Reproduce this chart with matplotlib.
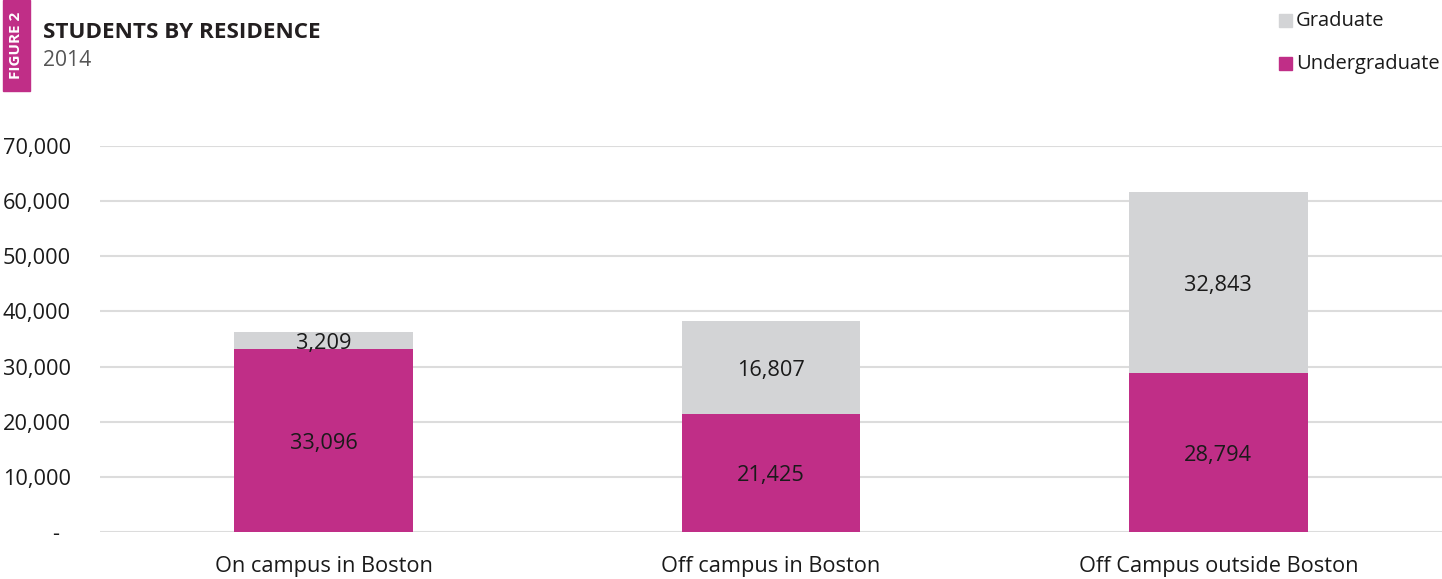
import matplotlib
matplotlib.use("Agg")
import matplotlib.pyplot as plt
from matplotlib.patches import Rectangle

categories = ["On campus in Boston", "Off campus in Boston", "Off Campus outside Boston"]
undergraduate = [33096, 21425, 28794]
graduate = [3209, 16807, 32843]
yticks = [0, 10000, 20000, 30000, 40000, 50000, 60000, 70000]
ytick_labels = ["-  ", "10,000", "20,000", "30,000", "40,000", "50,000", "60,000", "70,000"]

MAGENTA = "#c02e87"
GRAY = "#d3d4d6"
plt.rcParams['font.family'] = ['Open Sans', 'DejaVu Sans']

fig = plt.figure(figsize=(14.42, 5.79), dpi=100)
ax = fig.add_axes([100/1442, 47/579, 1342/1442, 386/579])

x = list(range(len(categories)))
w = 0.4
ax.bar(x, undergraduate, width=w, color=MAGENTA, zorder=3)
ax.bar(x, graduate, width=w, bottom=undergraduate, color=GRAY, zorder=3)

FS = 15.7
for i in x:
    ax.text(i, undergraduate[i] / 2, f"{undergraduate[i]:,}", ha="center", va="center_baseline",
            fontsize=FS, color="#1a1a1a", zorder=4)
    ax.text(i, undergraduate[i] + graduate[i] / 2, f"{graduate[i]:,}", ha="center",
            va="center_baseline", fontsize=FS, color="#1a1a1a", zorder=4)

ax.set_xlim(-0.5, 2.5)
ax.set_ylim(0, 70000)
ax.set_yticks(yticks)
ax.set_yticklabels(ytick_labels, fontsize=FS, color="#1a1a1a")
ax.set_xticks(x)
ax.set_xticklabels(categories, fontsize=FS, color="#1a1a1a")
ax.tick_params(axis="y", length=0, pad=21)
ax.tick_params(axis="x", length=0, pad=17)
ax.yaxis.grid(True, color="#dcdcdc", linewidth=1.5, zorder=0)
ax.set_axisbelow(True)
for s in ax.spines.values():
    s.set_visible(False)

# Figure tag
fig.patches.append(Rectangle((3/1442, 1 - 91/579), 27/1442, 91/579, transform=fig.transFigure,
                             color=MAGENTA, zorder=1))
fig.text(16.5/1442, 1 - 45/579, "FIGURE 2", rotation=90, ha="center", va="center",
         color="white", fontsize=11, fontweight="bold")
fig.text(43/1442, 1 - 32/579, "STUDENTS BY RESIDENCE", ha="left", va="center",
         fontsize=16.2, fontweight="bold", color="#231f20")
fig.text(43/1442, 1 - 61/579, "2014", ha="left", va="center", fontsize=15.2, color="#555555")

# Legend
for label, color, yc in [("Graduate", GRAY, 21), ("Undergraduate", MAGENTA, 64)]:
    fig.patches.append(Rectangle((1279/1442, 1 - (yc + 6)/579), 13/1442, 13/579,
                                 transform=fig.transFigure, color=color))
    fig.text(1296/1442, 1 - yc/579, label, ha="left", va="center", fontsize=14.5, color="#1a1a1a")

fig.savefig("out.png", dpi=100)
